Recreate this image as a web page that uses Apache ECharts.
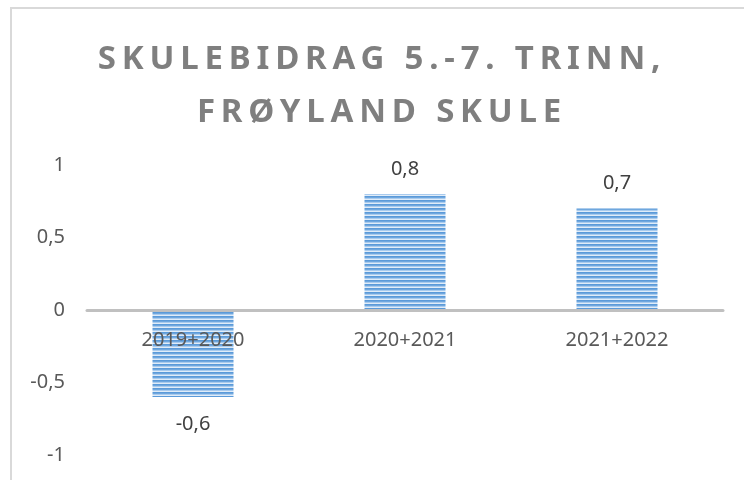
<!DOCTYPE html>
<html>
<head>
<meta charset="utf-8">
<script src="https://cdn.jsdelivr.net/npm/echarts@6/dist/echarts.min.js"></script>
<style>
  html, body { margin: 0; padding: 0; background: #fff; }
  .wrap { position: relative; width: 744px; height: 480px; overflow: hidden; }
  .frame {
    position: absolute; left: 10px; top: 7px; width: 800px; height: 600px;
    border-left: 2px solid #d9d9d9; border-top: 2px solid #d9d9d9;
  }
  .title {
    position: absolute; left: 0; width: 764px; top: 30px;
    text-align: center; color: #7f7f7f;
    font-family: 'Noto Sans', sans-serif; font-weight: bold;
    font-size: 33px; line-height: 53px; letter-spacing: 5.8px;
  }
  #myChart { position: absolute; left: 0; top: 0; width: 744px; height: 480px; }
</style>
</head>
<body>
<div class="wrap">
  <div class="frame"></div>
  <div id="myChart"></div>
  <div class="title">SKULEBIDRAG 5.-7. TRINN,<br>FRØYLAND SKULE</div>
</div>
<script>
// 数据
const categories = ['2019+2020', '2020+2021', '2021+2022']
const values = [-0.6, 0.8, 0.7]
const yTicks = [-1, -0.5, 0, 0.5, 1]

// 横条纹填充
function stripes() {
  const c = document.createElement('canvas')
  c.width = 4
  c.height = 4
  const ctx = c.getContext('2d')
  const rows = ['#5B9AD9', '#6FA7DE', '#A9CBEE', '#E0ECF8']
  rows.forEach((col, i) => {
    ctx.fillStyle = col
    ctx.fillRect(0, i, 4, 1)
  })
  return c
}

const fmt = v => String(v).replace('.', ',')

const myChart = echarts.init(document.getElementById('myChart'))
const option = {
  animation: false,
  grid: { top: 165, bottom: 25, left: 87, right: 21, outerBoundsMode: 'none' },
  xAxis: {
    type: 'category',
    data: categories,
    z: 5, // 轴标签压在柱子上面
    axisLine: { onZero: true, lineStyle: { color: '#c0c0c0', width: 3 } },
    axisTick: { show: false },
    axisLabel: {
      // 标签放在零线下方
      margin: -125,
      color: '#595959',
      fontSize: 20,
      fontFamily: 'Noto Sans'
    }
  },
  yAxis: {
    type: 'value',
    min: yTicks[0],
    max: yTicks[yTicks.length - 1],
    interval: 0.5,
    axisLine: { show: false },
    axisTick: { show: false },
    splitLine: { show: false },
    axisLabel: {
      margin: 22,
      color: '#595959',
      fontSize: 20,
      fontFamily: 'Noto Sans',
      formatter: fmt
    }
  },
  series: [
    {
      type: 'bar',
      barWidth: 81,
      z: 1,
      itemStyle: { color: { image: stripes(), repeat: 'repeat' } },
      label: {
        show: true,
        color: '#404040',
        fontSize: 20,
        fontFamily: 'Noto Sans',
        formatter: p => fmt(p.value)
      },
      data: values.map(v => ({
        value: v,
        label: { position: v < 0 ? 'bottom' : 'top', distance: v < 0 ? 17 : 15 }
      }))
    }
  ]
}
myChart.setOption(option)
</script>
</body>
</html>
